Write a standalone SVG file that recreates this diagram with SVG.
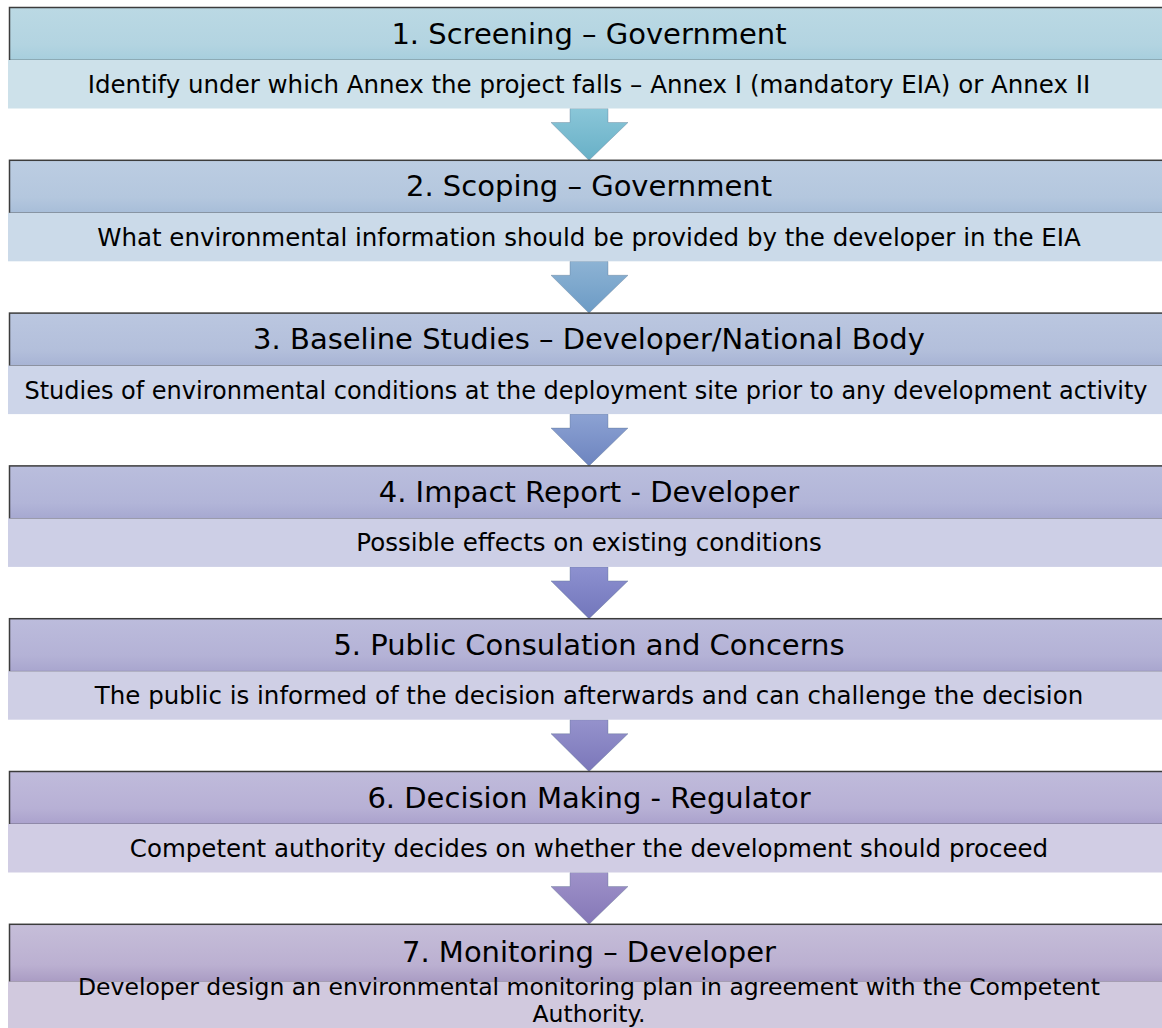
<svg xmlns="http://www.w3.org/2000/svg" width="1162" height="1028" viewBox="0 0 1162 1028">
<defs>
<linearGradient id="h1" x1="0" y1="0" x2="0" y2="1"><stop offset="0" stop-color="#bbd9e4"/><stop offset="0.7" stop-color="#b3d4e1"/><stop offset="1" stop-color="#a6cedd"/></linearGradient>
<linearGradient id="h2" x1="0" y1="0" x2="0" y2="1"><stop offset="0" stop-color="#bccde2"/><stop offset="0.7" stop-color="#b4c7de"/><stop offset="1" stop-color="#a7bdd8"/></linearGradient>
<linearGradient id="h3" x1="0" y1="0" x2="0" y2="1"><stop offset="0" stop-color="#bbc7e0"/><stop offset="0.7" stop-color="#b3bfdb"/><stop offset="1" stop-color="#a7b3d4"/></linearGradient>
<linearGradient id="h4" x1="0" y1="0" x2="0" y2="1"><stop offset="0" stop-color="#babedd"/><stop offset="0.7" stop-color="#b2b5d8"/><stop offset="1" stop-color="#a6a8d0"/></linearGradient>
<linearGradient id="h5" x1="0" y1="0" x2="0" y2="1"><stop offset="0" stop-color="#bcbcdc"/><stop offset="0.7" stop-color="#b4b2d6"/><stop offset="1" stop-color="#a8a5ce"/></linearGradient>
<linearGradient id="h6" x1="0" y1="0" x2="0" y2="1"><stop offset="0" stop-color="#c0bbdb"/><stop offset="0.7" stop-color="#b7b0d5"/><stop offset="1" stop-color="#aaa1cc"/></linearGradient>
<linearGradient id="h7" x1="0" y1="0" x2="0" y2="1"><stop offset="0" stop-color="#c6bed9"/><stop offset="0.7" stop-color="#bbb0d1"/><stop offset="1" stop-color="#a99bc3"/></linearGradient>
<linearGradient id="a1" x1="0" y1="0" x2="0" y2="1"><stop offset="0" stop-color="#8ac6d8"/><stop offset="1" stop-color="#68b0c7"/></linearGradient>
<linearGradient id="a2" x1="0" y1="0" x2="0" y2="1"><stop offset="0" stop-color="#8db3d4"/><stop offset="1" stop-color="#6c9bc5"/></linearGradient>
<linearGradient id="a3" x1="0" y1="0" x2="0" y2="1"><stop offset="0" stop-color="#8ca2d3"/><stop offset="1" stop-color="#6d84bf"/></linearGradient>
<linearGradient id="a4" x1="0" y1="0" x2="0" y2="1"><stop offset="0" stop-color="#8d91d0"/><stop offset="1" stop-color="#7276bb"/></linearGradient>
<linearGradient id="a5" x1="0" y1="0" x2="0" y2="1"><stop offset="0" stop-color="#9592cc"/><stop offset="1" stop-color="#7b77ba"/></linearGradient>
<linearGradient id="a6" x1="0" y1="0" x2="0" y2="1"><stop offset="0" stop-color="#9e92c9"/><stop offset="1" stop-color="#8577b7"/></linearGradient>
</defs>
<style>
.hd{stroke:#3c3c3c;stroke-width:1.5}
.sb{stroke:none}
.ht{font-family:"DejaVu Sans",Verdana,sans-serif;font-size:29px;fill:#000;text-anchor:middle}
.st{font-family:"DejaVu Sans",Verdana,sans-serif;font-size:24.5px;fill:#000;text-anchor:middle}
.sm{font-size:24px}
.xs{font-size:23.5px}
.ar{stroke:#5a6f8a;stroke-opacity:0.35;stroke-width:1}
</style>
<rect width="1162" height="1028" fill="#fff"/>
<g id="connectors">
<path class="ar" fill="url(#a1)" d="M570,108.5 H608 V122.5 H628 L589,160.3 L551,122.5 H570 Z"/>
<path class="ar" fill="url(#a2)" d="M570,261.3 H608 V275.3 H628 L589,313.1 L551,275.3 H570 Z"/>
<path class="ar" fill="url(#a3)" d="M570,414.1 H608 V428.1 H628 L589,465.9 L551,428.1 H570 Z"/>
<path class="ar" fill="url(#a4)" d="M570,566.9 H608 V580.9 H628 L589,618.7 L551,580.9 H570 Z"/>
<path class="ar" fill="url(#a5)" d="M570,719.7 H608 V733.7 H628 L589,771.5 L551,733.7 H570 Z"/>
<path class="ar" fill="url(#a6)" d="M570,872.5 H608 V886.5 H628 L589,924.3 L551,886.5 H570 Z"/>
</g>
<g id="node1">
<rect class="hd" x="9.5" y="7.5" width="1170" height="53" fill="url(#h1)"/>
<rect class="sb" x="8" y="60" width="1160" height="48.5" fill="#cde1ea"/>
<text class="ht" x="589" y="43.5">1. Screening – Government</text>
<text class="st" x="589" y="93">Identify under which Annex the project falls – Annex I (mandatory EIA) or Annex II</text>
</g>
<g id="node2">
<rect class="hd" x="9.5" y="160.3" width="1170" height="53" fill="url(#h2)"/>
<rect class="sb" x="8" y="212.8" width="1160" height="48.5" fill="#cbdae9"/>
<text class="ht" x="589" y="196.3">2. Scoping – Government</text>
<text class="st" x="589" y="245.8">What environmental information should be provided by the developer in the EIA</text>
</g>
<g id="node3">
<rect class="hd" x="9.5" y="313.1" width="1170" height="53" fill="url(#h3)"/>
<rect class="sb" x="8" y="365.6" width="1160" height="48.5" fill="#cdd5e9"/>
<text class="ht" x="589" y="349.1">3. Baseline Studies – Developer/National Body</text>
<text class="st sm" x="586" y="398.6">Studies of environmental conditions at the deployment site prior to any development activity</text>
</g>
<g id="node4">
<rect class="hd" x="9.5" y="465.9" width="1170" height="53" fill="url(#h4)"/>
<rect class="sb" x="8" y="518.4" width="1160" height="48.5" fill="#cdcfe6"/>
<text class="ht" x="589" y="501.9">4. Impact Report - Developer</text>
<text class="st" x="589" y="551.4">Possible effects on existing conditions</text>
</g>
<g id="node5">
<rect class="hd" x="9.5" y="618.7" width="1170" height="53" fill="url(#h5)"/>
<rect class="sb" x="8" y="671.2" width="1160" height="48.5" fill="#cfcfe5"/>
<text class="ht" x="589" y="654.7">5. Public Consulation and Concerns</text>
<text class="st" x="589" y="704.2">The public is informed of the decision afterwards and can challenge the decision</text>
</g>
<g id="node6">
<rect class="hd" x="9.5" y="771.5" width="1170" height="53" fill="url(#h6)"/>
<rect class="sb" x="8" y="824" width="1160" height="48.5" fill="#d1cde4"/>
<text class="ht" x="589" y="807.5">6. Decision Making - Regulator</text>
<text class="st" x="589" y="857">Competent authority decides on whether the development should proceed</text>
</g>
<g id="node7">
<rect class="hd" x="9.5" y="924.3" width="1170" height="58" fill="url(#h7)"/>
<rect class="sb" x="8" y="981.5" width="1160" height="46.5" fill="#d1c9de"/>
<text class="ht" x="589" y="961.5">7. Monitoring – Developer</text>
<text class="st xs" x="589" y="994.5">Developer design an environmental monitoring plan in agreement with the Competent</text>
<text class="st xs" x="589" y="1022">Authority.</text>
</g>
</svg>
